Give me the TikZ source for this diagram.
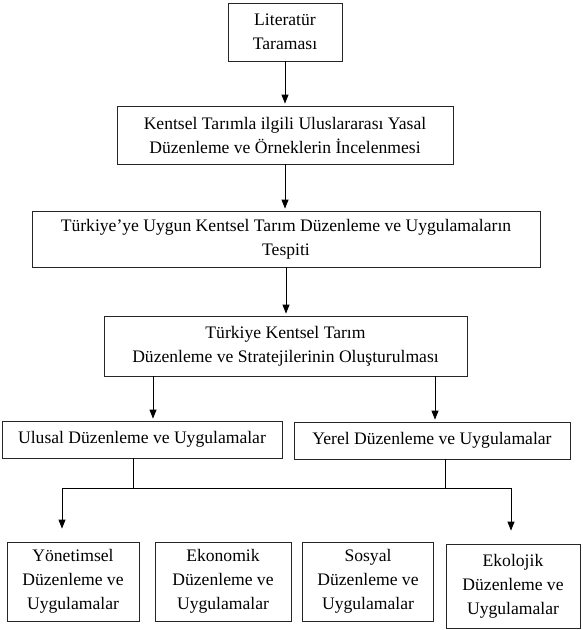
\documentclass[tikz,border=0pt]{standalone}
\usepackage{fontspec}
\setmainfont{Liberation Serif}
\usetikzlibrary{arrows.meta}

\begin{document}
\begin{tikzpicture}[x=1pt,y=-1pt,
        kutu/.style={draw=black!85, line width=0.8pt, inner sep=0pt, align=center, font=\fontsize{17.6}{24}\selectfont},
        ok/.style={-{Triangle[length=9pt,width=7pt]}, line width=0.8pt, shorten >=2pt},
        cizgi/.style={line width=0.8pt}]
        \useasboundingbox (0,0) rectangle (582,630);
        \node[kutu, minimum width=114, minimum height=58] (lit) at (285,32) {Literatür\\Taraması};
        \node[kutu, minimum width=336, minimum height=58] (ulusarasi) at (285,135) {Kentsel Tarımla ilgili Uluslararası Yasal\\Düzenleme ve Örneklerin İncelenmesi};
        \node[kutu, minimum width=508, minimum height=56] (tespit) at (286,239) {Türkiye’ye Uygun Kentsel Tarım Düzenleme ve Uygulamaların\\Tespiti};
        \node[kutu, minimum width=363, minimum height=60] (strateji) at (285.5,346) {Türkiye Kentsel Tarım\\Düzenleme ve Stratejilerinin Oluşturulması};
        \node[kutu, minimum width=280, minimum height=37] (ulusal) at (142,439.5) {Ulusal Düzenleme ve Uygulamalar};
        \node[kutu, minimum width=276, minimum height=37] (yerel) at (432,440.5) {Yerel Düzenleme ve Uygulamalar};
        \node[kutu, minimum width=132, minimum height=79] (yonetim) at (73,581.5) {Yönetimsel\\Düzenleme ve\\Uygulamalar};
        \node[kutu, minimum width=136, minimum height=79] (ekonomi) at (223,581.5) {Ekonomik\\Düzenleme ve\\Uygulamalar};
        \node[kutu, minimum width=131, minimum height=79] (sosyal) at (368,581.5) {Sosyal\\Düzenleme ve\\Uygulamalar};
        \node[kutu, minimum width=134, minimum height=84] (ekoloji) at (513,586) {Ekolojik\\Düzenleme ve\\Uygulamalar};
        % ana akis
        \draw[ok] (lit.south) -- (ulusarasi.north -| lit.south);
        \draw[ok] (ulusarasi.south) -- (tespit.north -| ulusarasi.south);
        \draw[ok] (tespit.south) -- (strateji.north -| tespit.south);
        \coordinate (sol) at (153,380);
        \coordinate (sag) at (435,380);
        \draw[ok] (strateji.south -| sol) -- (ulusal.north -| sol);
        \draw[ok] (strateji.south -| sag) -- (yerel.north -| sag);
        % alt dallar
        \coordinate (jl) at (133,488);
        \coordinate (jr) at (445,488);
        \coordinate (bl) at (62,488);
        \coordinate (br) at (511,488);
        \draw[cizgi] (ulusal.south -| jl) -- (jl);
        \draw[cizgi] (yerel.south -| jr) -- (jr);
        \draw[cizgi] (jl) -- (jr);
        \draw[ok, shorten >=13pt] (jl) -- (bl) -- (yonetim.north -| bl);
        \draw[ok, shorten >=13pt] (jr) -- (br) -- (ekoloji.north -| br);
\end{tikzpicture}
\end{document}
